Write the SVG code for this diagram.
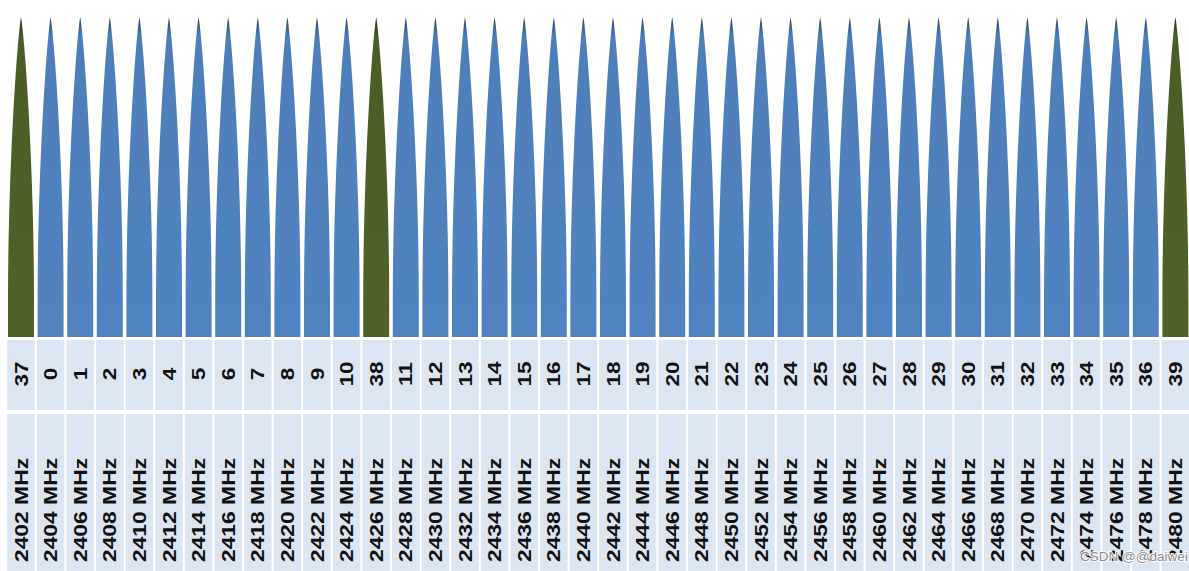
<svg xmlns="http://www.w3.org/2000/svg" xmlns:xlink="http://www.w3.org/1999/xlink" width="1189" height="571" viewBox="0 0 1189 571">
<style>
.cell{fill:#dce6f2}
.num{font-family:"Liberation Sans",Arial,sans-serif;font-weight:bold;font-size:18px;fill:#111;text-anchor:middle}
.frq{font-family:"Liberation Sans",Arial,sans-serif;font-weight:bold;font-size:18px;fill:#111;text-anchor:middle}
.wm{font-family:"Liberation Sans",Arial,sans-serif;font-size:13.5px;fill:#8a8a8a;stroke:#fff;stroke-width:2;paint-order:stroke}
</style>
<defs>
<linearGradient id="gb" x1="0" y1="0" x2="0" y2="1">
<stop offset="0" stop-color="#2a3f5e"/><stop offset="0.06" stop-color="#4d7eba"/><stop offset="1" stop-color="#5183c0"/>
</linearGradient>
<linearGradient id="gg" x1="0" y1="0" x2="0" y2="1">
<stop offset="0" stop-color="#263012"/><stop offset="0.06" stop-color="#4a5d25"/><stop offset="1" stop-color="#4f6228"/>
</linearGradient>
<path id="shape" d="M0,337 V300 C0,170 9,40 13,17 C17,40 26,170 26,300 V337 Z"/>
<rect id="c1" class="cell" x="-0.8" y="340" width="27.6" height="70"/>
<rect id="c2" class="cell" x="-0.8" y="414" width="27.6" height="157"/>
</defs>
<rect width="1189" height="571" fill="#fff"/>
<g id="connectors"></g>
<g id="ch37" transform="translate(8,0)"><use href="#shape" fill="url(#gg)"/><use href="#c1"/><use href="#c2"/><text class="num" transform="translate(19.5,374) rotate(-90) scale(1.25,1)">37</text><text class="frq" transform="translate(19.5,510) rotate(-90) scale(1.27,1)">2402 MHz</text></g>
<g id="ch0" transform="translate(37.6,0)"><use href="#shape" fill="url(#gb)"/><use href="#c1"/><use href="#c2"/><text class="num" transform="translate(19.5,374) rotate(-90) scale(1.25,1)">0</text><text class="frq" transform="translate(19.5,510) rotate(-90) scale(1.27,1)">2404 MHz</text></g>
<g id="ch1" transform="translate(67.2,0)"><use href="#shape" fill="url(#gb)"/><use href="#c1"/><use href="#c2"/><text class="num" transform="translate(19.5,374) rotate(-90) scale(1.25,1)">1</text><text class="frq" transform="translate(19.5,510) rotate(-90) scale(1.27,1)">2406 MHz</text></g>
<g id="ch2" transform="translate(96.8,0)"><use href="#shape" fill="url(#gb)"/><use href="#c1"/><use href="#c2"/><text class="num" transform="translate(19.5,374) rotate(-90) scale(1.25,1)">2</text><text class="frq" transform="translate(19.5,510) rotate(-90) scale(1.27,1)">2408 MHz</text></g>
<g id="ch3" transform="translate(126.4,0)"><use href="#shape" fill="url(#gb)"/><use href="#c1"/><use href="#c2"/><text class="num" transform="translate(19.5,374) rotate(-90) scale(1.25,1)">3</text><text class="frq" transform="translate(19.5,510) rotate(-90) scale(1.27,1)">2410 MHz</text></g>
<g id="ch4" transform="translate(156,0)"><use href="#shape" fill="url(#gb)"/><use href="#c1"/><use href="#c2"/><text class="num" transform="translate(19.5,374) rotate(-90) scale(1.25,1)">4</text><text class="frq" transform="translate(19.5,510) rotate(-90) scale(1.27,1)">2412 MHz</text></g>
<g id="ch5" transform="translate(185.6,0)"><use href="#shape" fill="url(#gb)"/><use href="#c1"/><use href="#c2"/><text class="num" transform="translate(19.5,374) rotate(-90) scale(1.25,1)">5</text><text class="frq" transform="translate(19.5,510) rotate(-90) scale(1.27,1)">2414 MHz</text></g>
<g id="ch6" transform="translate(215.2,0)"><use href="#shape" fill="url(#gb)"/><use href="#c1"/><use href="#c2"/><text class="num" transform="translate(19.5,374) rotate(-90) scale(1.25,1)">6</text><text class="frq" transform="translate(19.5,510) rotate(-90) scale(1.27,1)">2416 MHz</text></g>
<g id="ch7" transform="translate(244.8,0)"><use href="#shape" fill="url(#gb)"/><use href="#c1"/><use href="#c2"/><text class="num" transform="translate(19.5,374) rotate(-90) scale(1.25,1)">7</text><text class="frq" transform="translate(19.5,510) rotate(-90) scale(1.27,1)">2418 MHz</text></g>
<g id="ch8" transform="translate(274.4,0)"><use href="#shape" fill="url(#gb)"/><use href="#c1"/><use href="#c2"/><text class="num" transform="translate(19.5,374) rotate(-90) scale(1.25,1)">8</text><text class="frq" transform="translate(19.5,510) rotate(-90) scale(1.27,1)">2420 MHz</text></g>
<g id="ch9" transform="translate(304,0)"><use href="#shape" fill="url(#gb)"/><use href="#c1"/><use href="#c2"/><text class="num" transform="translate(19.5,374) rotate(-90) scale(1.25,1)">9</text><text class="frq" transform="translate(19.5,510) rotate(-90) scale(1.27,1)">2422 MHz</text></g>
<g id="ch10" transform="translate(333.6,0)"><use href="#shape" fill="url(#gb)"/><use href="#c1"/><use href="#c2"/><text class="num" transform="translate(19.5,374) rotate(-90) scale(1.25,1)">10</text><text class="frq" transform="translate(19.5,510) rotate(-90) scale(1.27,1)">2424 MHz</text></g>
<g id="ch38" transform="translate(363.2,0)"><use href="#shape" fill="url(#gg)"/><use href="#c1"/><use href="#c2"/><text class="num" transform="translate(19.5,374) rotate(-90) scale(1.25,1)">38</text><text class="frq" transform="translate(19.5,510) rotate(-90) scale(1.27,1)">2426 MHz</text></g>
<g id="ch11" transform="translate(392.8,0)"><use href="#shape" fill="url(#gb)"/><use href="#c1"/><use href="#c2"/><text class="num" transform="translate(19.5,374) rotate(-90) scale(1.25,1)">11</text><text class="frq" transform="translate(19.5,510) rotate(-90) scale(1.27,1)">2428 MHz</text></g>
<g id="ch12" transform="translate(422.4,0)"><use href="#shape" fill="url(#gb)"/><use href="#c1"/><use href="#c2"/><text class="num" transform="translate(19.5,374) rotate(-90) scale(1.25,1)">12</text><text class="frq" transform="translate(19.5,510) rotate(-90) scale(1.27,1)">2430 MHz</text></g>
<g id="ch13" transform="translate(452,0)"><use href="#shape" fill="url(#gb)"/><use href="#c1"/><use href="#c2"/><text class="num" transform="translate(19.5,374) rotate(-90) scale(1.25,1)">13</text><text class="frq" transform="translate(19.5,510) rotate(-90) scale(1.27,1)">2432 MHz</text></g>
<g id="ch14" transform="translate(481.6,0)"><use href="#shape" fill="url(#gb)"/><use href="#c1"/><use href="#c2"/><text class="num" transform="translate(19.5,374) rotate(-90) scale(1.25,1)">14</text><text class="frq" transform="translate(19.5,510) rotate(-90) scale(1.27,1)">2434 MHz</text></g>
<g id="ch15" transform="translate(511.2,0)"><use href="#shape" fill="url(#gb)"/><use href="#c1"/><use href="#c2"/><text class="num" transform="translate(19.5,374) rotate(-90) scale(1.25,1)">15</text><text class="frq" transform="translate(19.5,510) rotate(-90) scale(1.27,1)">2436 MHz</text></g>
<g id="ch16" transform="translate(540.8,0)"><use href="#shape" fill="url(#gb)"/><use href="#c1"/><use href="#c2"/><text class="num" transform="translate(19.5,374) rotate(-90) scale(1.25,1)">16</text><text class="frq" transform="translate(19.5,510) rotate(-90) scale(1.27,1)">2438 MHz</text></g>
<g id="ch17" transform="translate(570.4,0)"><use href="#shape" fill="url(#gb)"/><use href="#c1"/><use href="#c2"/><text class="num" transform="translate(19.5,374) rotate(-90) scale(1.25,1)">17</text><text class="frq" transform="translate(19.5,510) rotate(-90) scale(1.27,1)">2440 MHz</text></g>
<g id="ch18" transform="translate(600,0)"><use href="#shape" fill="url(#gb)"/><use href="#c1"/><use href="#c2"/><text class="num" transform="translate(19.5,374) rotate(-90) scale(1.25,1)">18</text><text class="frq" transform="translate(19.5,510) rotate(-90) scale(1.27,1)">2442 MHz</text></g>
<g id="ch19" transform="translate(629.6,0)"><use href="#shape" fill="url(#gb)"/><use href="#c1"/><use href="#c2"/><text class="num" transform="translate(19.5,374) rotate(-90) scale(1.25,1)">19</text><text class="frq" transform="translate(19.5,510) rotate(-90) scale(1.27,1)">2444 MHz</text></g>
<g id="ch20" transform="translate(659.2,0)"><use href="#shape" fill="url(#gb)"/><use href="#c1"/><use href="#c2"/><text class="num" transform="translate(19.5,374) rotate(-90) scale(1.25,1)">20</text><text class="frq" transform="translate(19.5,510) rotate(-90) scale(1.27,1)">2446 MHz</text></g>
<g id="ch21" transform="translate(688.8,0)"><use href="#shape" fill="url(#gb)"/><use href="#c1"/><use href="#c2"/><text class="num" transform="translate(19.5,374) rotate(-90) scale(1.25,1)">21</text><text class="frq" transform="translate(19.5,510) rotate(-90) scale(1.27,1)">2448 MHz</text></g>
<g id="ch22" transform="translate(718.4,0)"><use href="#shape" fill="url(#gb)"/><use href="#c1"/><use href="#c2"/><text class="num" transform="translate(19.5,374) rotate(-90) scale(1.25,1)">22</text><text class="frq" transform="translate(19.5,510) rotate(-90) scale(1.27,1)">2450 MHz</text></g>
<g id="ch23" transform="translate(748,0)"><use href="#shape" fill="url(#gb)"/><use href="#c1"/><use href="#c2"/><text class="num" transform="translate(19.5,374) rotate(-90) scale(1.25,1)">23</text><text class="frq" transform="translate(19.5,510) rotate(-90) scale(1.27,1)">2452 MHz</text></g>
<g id="ch24" transform="translate(777.6,0)"><use href="#shape" fill="url(#gb)"/><use href="#c1"/><use href="#c2"/><text class="num" transform="translate(19.5,374) rotate(-90) scale(1.25,1)">24</text><text class="frq" transform="translate(19.5,510) rotate(-90) scale(1.27,1)">2454 MHz</text></g>
<g id="ch25" transform="translate(807.2,0)"><use href="#shape" fill="url(#gb)"/><use href="#c1"/><use href="#c2"/><text class="num" transform="translate(19.5,374) rotate(-90) scale(1.25,1)">25</text><text class="frq" transform="translate(19.5,510) rotate(-90) scale(1.27,1)">2456 MHz</text></g>
<g id="ch26" transform="translate(836.8,0)"><use href="#shape" fill="url(#gb)"/><use href="#c1"/><use href="#c2"/><text class="num" transform="translate(19.5,374) rotate(-90) scale(1.25,1)">26</text><text class="frq" transform="translate(19.5,510) rotate(-90) scale(1.27,1)">2458 MHz</text></g>
<g id="ch27" transform="translate(866.4,0)"><use href="#shape" fill="url(#gb)"/><use href="#c1"/><use href="#c2"/><text class="num" transform="translate(19.5,374) rotate(-90) scale(1.25,1)">27</text><text class="frq" transform="translate(19.5,510) rotate(-90) scale(1.27,1)">2460 MHz</text></g>
<g id="ch28" transform="translate(896,0)"><use href="#shape" fill="url(#gb)"/><use href="#c1"/><use href="#c2"/><text class="num" transform="translate(19.5,374) rotate(-90) scale(1.25,1)">28</text><text class="frq" transform="translate(19.5,510) rotate(-90) scale(1.27,1)">2462 MHz</text></g>
<g id="ch29" transform="translate(925.6,0)"><use href="#shape" fill="url(#gb)"/><use href="#c1"/><use href="#c2"/><text class="num" transform="translate(19.5,374) rotate(-90) scale(1.25,1)">29</text><text class="frq" transform="translate(19.5,510) rotate(-90) scale(1.27,1)">2464 MHz</text></g>
<g id="ch30" transform="translate(955.2,0)"><use href="#shape" fill="url(#gb)"/><use href="#c1"/><use href="#c2"/><text class="num" transform="translate(19.5,374) rotate(-90) scale(1.25,1)">30</text><text class="frq" transform="translate(19.5,510) rotate(-90) scale(1.27,1)">2466 MHz</text></g>
<g id="ch31" transform="translate(984.8,0)"><use href="#shape" fill="url(#gb)"/><use href="#c1"/><use href="#c2"/><text class="num" transform="translate(19.5,374) rotate(-90) scale(1.25,1)">31</text><text class="frq" transform="translate(19.5,510) rotate(-90) scale(1.27,1)">2468 MHz</text></g>
<g id="ch32" transform="translate(1014.4,0)"><use href="#shape" fill="url(#gb)"/><use href="#c1"/><use href="#c2"/><text class="num" transform="translate(19.5,374) rotate(-90) scale(1.25,1)">32</text><text class="frq" transform="translate(19.5,510) rotate(-90) scale(1.27,1)">2470 MHz</text></g>
<g id="ch33" transform="translate(1044,0)"><use href="#shape" fill="url(#gb)"/><use href="#c1"/><use href="#c2"/><text class="num" transform="translate(19.5,374) rotate(-90) scale(1.25,1)">33</text><text class="frq" transform="translate(19.5,510) rotate(-90) scale(1.27,1)">2472 MHz</text></g>
<g id="ch34" transform="translate(1073.6,0)"><use href="#shape" fill="url(#gb)"/><use href="#c1"/><use href="#c2"/><text class="num" transform="translate(19.5,374) rotate(-90) scale(1.25,1)">34</text><text class="frq" transform="translate(19.5,510) rotate(-90) scale(1.27,1)">2474 MHz</text></g>
<g id="ch35" transform="translate(1103.2,0)"><use href="#shape" fill="url(#gb)"/><use href="#c1"/><use href="#c2"/><text class="num" transform="translate(19.5,374) rotate(-90) scale(1.25,1)">35</text><text class="frq" transform="translate(19.5,510) rotate(-90) scale(1.27,1)">2476 MHz</text></g>
<g id="ch36" transform="translate(1132.8,0)"><use href="#shape" fill="url(#gb)"/><use href="#c1"/><use href="#c2"/><text class="num" transform="translate(19.5,374) rotate(-90) scale(1.25,1)">36</text><text class="frq" transform="translate(19.5,510) rotate(-90) scale(1.27,1)">2478 MHz</text></g>
<g id="ch39" transform="translate(1162.4,0)"><use href="#shape" fill="url(#gg)"/><use href="#c1"/><use href="#c2"/><text class="num" transform="translate(19.5,374) rotate(-90) scale(1.25,1)">39</text><text class="frq" transform="translate(19.5,510) rotate(-90) scale(1.27,1)">2480 MHz</text></g>
<text class="wm" x="1080" y="561">CSDN @@daiwei</text>
</svg>
